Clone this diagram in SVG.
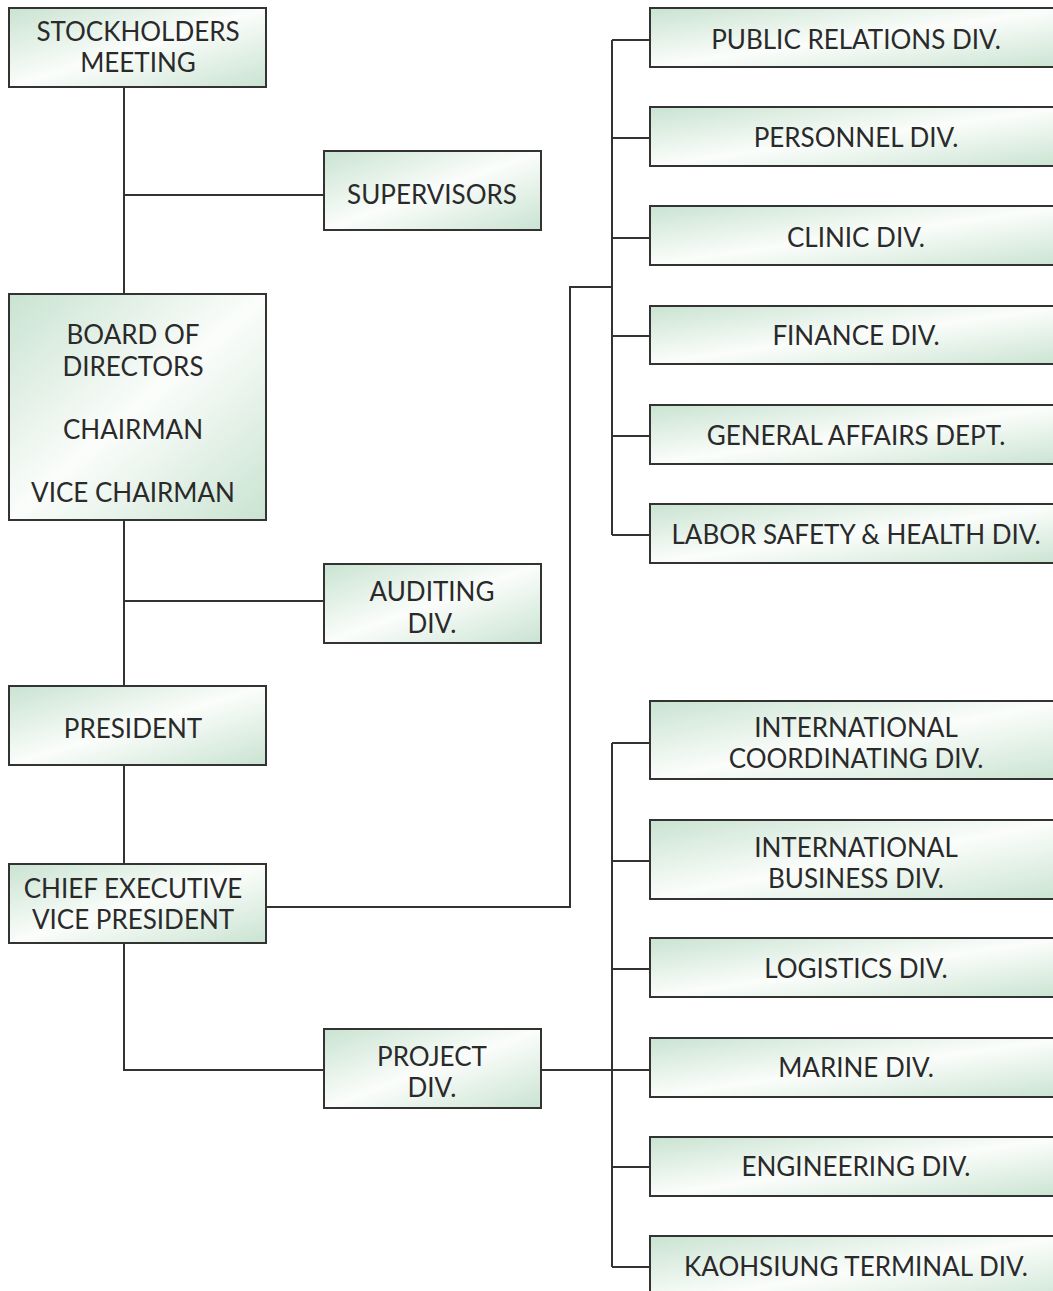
<svg xmlns="http://www.w3.org/2000/svg" width="1053" height="1291" viewBox="0 0 1053 1291">
<style>
.box{fill:url(#g);stroke:#333;stroke-width:2}
.t{font-family:Lato,"Open Sans","Liberation Sans",sans-serif;font-size:26px;fill:#2a2a2a;text-anchor:middle;dominant-baseline:central}
.c{fill:none;stroke:#333;stroke-width:2}
</style>
<defs>
<linearGradient id="g" x1="0" y1="0" x2="1" y2="1">
<stop offset="0" stop-color="#c9e3d1"/>
<stop offset="0.5" stop-color="#fbfdfb"/>
<stop offset="1" stop-color="#c9e3d1"/>
</linearGradient>
</defs>
<rect width="1053" height="1291" fill="#fff"/>
<g id="connectors">
<path class="c" d="M124 87V294M124 195H324"/>
<path class="c" d="M124 520V686M124 601H324"/>
<path class="c" d="M124 765V864"/>
<path class="c" d="M124 943V1070H324"/>
<path class="c" d="M266 907H570V287H612"/>
<path class="c" d="M612 40V535M612 40H650M612 138H650M612 238H650M612 336H650M612 436H650M612 535H650"/>
<path class="c" d="M541 1070H650M612 743V1267M612 743H650M612 861H650M612 969H650M612 1167H650M612 1267H650"/>
</g>
<g id="stockholders"><rect class="box" x="9" y="8" width="257" height="79"/><text class="t" x="138" y="31">STOCKHOLDERS</text><text class="t" x="138" y="62">MEETING</text></g>
<g id="supervisors"><rect class="box" x="324" y="151" width="217" height="79"/><text class="t" x="432" y="194">SUPERVISORS</text></g>
<g id="board"><rect class="box" x="9" y="294" width="257" height="226"/><text class="t" x="133" y="334">BOARD OF</text><text class="t" x="133" y="366">DIRECTORS</text><text class="t" x="133" y="429">CHAIRMAN</text><text class="t" x="133" y="492">VICE CHAIRMAN</text></g>
<g id="auditing"><rect class="box" x="324" y="564" width="217" height="79"/><text class="t" x="432" y="591">AUDITING</text><text class="t" x="432" y="623">DIV.</text></g>
<g id="president"><rect class="box" x="9" y="686" width="257" height="79"/><text class="t" x="133" y="728">PRESIDENT</text></g>
<g id="cevp"><rect class="box" x="9" y="864" width="257" height="79"/><text class="t" x="133" y="888">CHIEF EXECUTIVE</text><text class="t" x="133" y="919">VICE PRESIDENT</text></g>
<g id="project"><rect class="box" x="324" y="1029" width="217" height="79"/><text class="t" x="432" y="1056">PROJECT</text><text class="t" x="432" y="1087">DIV.</text></g>
<g id="pr"><rect class="box" x="650" y="8" width="420" height="59"/><text class="t" x="856" y="39">PUBLIC RELATIONS DIV.</text></g>
<g id="personnel"><rect class="box" x="650" y="107" width="420" height="59"/><text class="t" x="856" y="137">PERSONNEL DIV.</text></g>
<g id="clinic"><rect class="box" x="650" y="206" width="420" height="59"/><text class="t" x="856" y="237">CLINIC DIV.</text></g>
<g id="finance"><rect class="box" x="650" y="306" width="420" height="58"/><text class="t" x="856" y="335">FINANCE DIV.</text></g>
<g id="general"><rect class="box" x="650" y="405" width="420" height="59"/><text class="t" x="856" y="435">GENERAL AFFAIRS DEPT.</text></g>
<g id="labor"><rect class="box" x="650" y="504" width="420" height="59"/><text class="t" x="856" y="534">LABOR SAFETY &amp; HEALTH DIV.</text></g>
<g id="intlcoord"><rect class="box" x="650" y="701" width="420" height="78"/><text class="t" x="856" y="727">INTERNATIONAL</text><text class="t" x="856" y="758">COORDINATING DIV.</text></g>
<g id="intlbiz"><rect class="box" x="650" y="820" width="420" height="79"/><text class="t" x="856" y="847">INTERNATIONAL</text><text class="t" x="856" y="878">BUSINESS DIV.</text></g>
<g id="logistics"><rect class="box" x="650" y="938" width="420" height="59"/><text class="t" x="856" y="968">LOGISTICS DIV.</text></g>
<g id="marine"><rect class="box" x="650" y="1038" width="420" height="59"/><text class="t" x="856" y="1067">MARINE DIV.</text></g>
<g id="engineering"><rect class="box" x="650" y="1137" width="420" height="59"/><text class="t" x="856" y="1166">ENGINEERING DIV.</text></g>
<g id="kaohsiung"><rect class="box" x="650" y="1236" width="420" height="70"/><text class="t" x="856" y="1266">KAOHSIUNG TERMINAL DIV.</text></g>
</svg>
